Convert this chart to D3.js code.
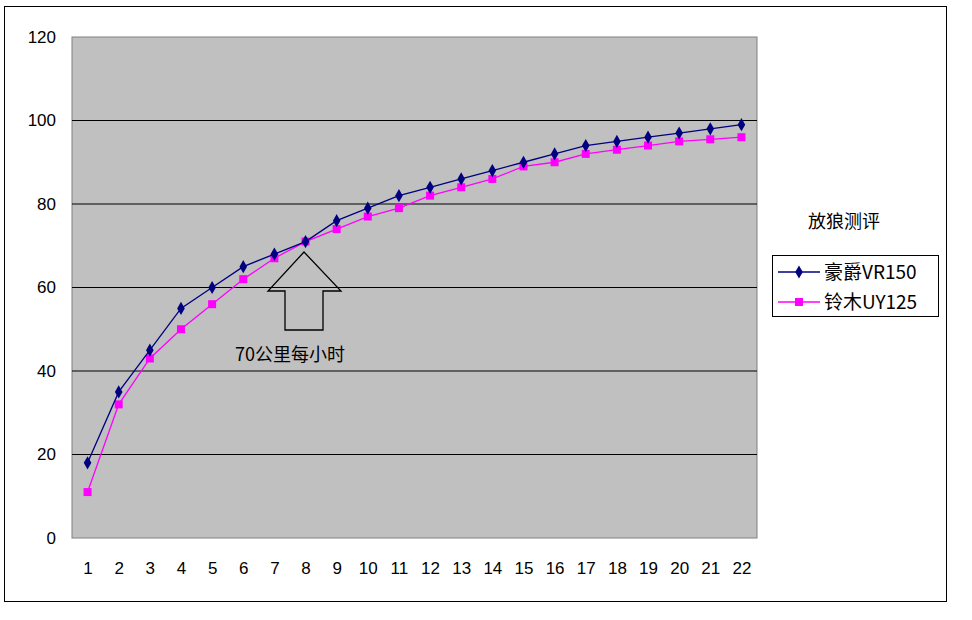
<!DOCTYPE html><html><head><meta charset="utf-8"><script src="https://cdn.jsdelivr.net/npm/d3@7"></script>
<style>body{margin:0;background:#fff}</style></head><body><svg id="c" width="972" height="620"></svg><script>
const categories=d3.range(1,23).map(String);
const seriesNames=["豪爵VR150","铃木UY125"];
const haojue=[18,35,45,55,60,65,68,71,76,79,82,84,86,88,90,92,94,95,96,97,98,99];
const suzuki=[11,32,43,50,56,62,67,71,74,77,79,82,84,86,89,90,92,93,94,95,95.5,96];
const yTicks=[0,20,40,60,80,100,120];
const svg=d3.select("#c");
const font="SimSun,'Noto Sans CJK SC',sans-serif";
svg.append("rect").attr("x",4.5).attr("y",6.5).attr("width",942).attr("height",595).attr("fill","#fff").attr("stroke","#000");
const L=72,R=757,T=37,B=538;
const x=d3.scalePoint().domain(categories).range([L,R]).padding(0.5);
const y=d3.scaleLinear().domain([0,120]).range([B,T]);
svg.append("rect").attr("x",L).attr("y",T).attr("width",R-L).attr("height",B-T).attr("fill","#c0c0c0").attr("stroke","#808080");
svg.append("g").selectAll("line").data(yTicks.slice(1,-1)).join("line").attr("x1",L).attr("x2",R).attr("y1",d=>y(d)).attr("y2",d=>y(d)).attr("stroke","#000");
const ya=svg.append("g").attr("transform",`translate(${L},0)`).call(d3.axisLeft(y).tickValues(yTicks).tickSize(0).tickPadding(16));
const xa=svg.append("g").attr("transform",`translate(0,${B})`).call(d3.axisBottom(x).tickSize(0).tickPadding(24));
[ya,xa].forEach(a=>{a.select(".domain").remove();a.selectAll("text").attr("font-size",17).attr("font-family","'Liberation Sans',Arial,sans-serif").attr("fill","#000");});
const line=d3.line().x((d,i)=>x(categories[i])).y(d=>y(d));
svg.append("path").datum(suzuki).attr("d",line).attr("fill","none").attr("stroke","#ff00ff").attr("stroke-width",1.3);
svg.append("g").selectAll("rect").data(suzuki).join("rect").attr("x",(d,i)=>x(categories[i])-4).attr("y",d=>y(d)-4).attr("width",8).attr("height",8).attr("fill","#ff00ff");
svg.append("path").datum(haojue).attr("d",line).attr("fill","none").attr("stroke","#000080").attr("stroke-width",1.3);
const dia=d3.symbol().type(d3.symbolDiamond).size(50);
svg.append("g").selectAll("path").data(haojue).join("path").attr("transform",(d,i)=>`translate(${x(categories[i])},${y(d)})`).attr("d",dia).attr("fill","#000080");
// arrow
svg.append("path").attr("d","M304,252 L341,291 L323,291 L323,330 L285,330 L285,291 L268,291 Z").attr("fill","none").attr("stroke","#000").attr("stroke-width",1.3);
svg.append("text").attr("x",235).attr("y",361).attr("font-size",18).attr("font-family",font).text("70公里每小时");
svg.append("text").attr("x",808).attr("y",228).attr("font-size",18).attr("font-family",font).text("放狼测评");
// legend
const lg=svg.append("g");
lg.append("rect").attr("x",772.5).attr("y",255.5).attr("width",166).attr("height",61).attr("fill","#fff").attr("stroke","#000");
[["#000080","d"],["#ff00ff","s"]].forEach((c,i)=>{const yy=272+i*30;
lg.append("line").attr("x1",778).attr("x2",820).attr("y1",yy).attr("y2",yy).attr("stroke",c[0]).attr("stroke-width",1.3);
if(c[1]=="d")lg.append("path").attr("transform",`translate(799,${yy})`).attr("d",dia).attr("fill",c[0]);
else lg.append("rect").attr("x",795).attr("y",yy-4).attr("width",8).attr("height",8).attr("fill",c[0]);
lg.append("text").attr("x",824).attr("y",yy+7).attr("font-size",19).attr("font-family",font).text(seriesNames[i]);});
</script></body></html>
